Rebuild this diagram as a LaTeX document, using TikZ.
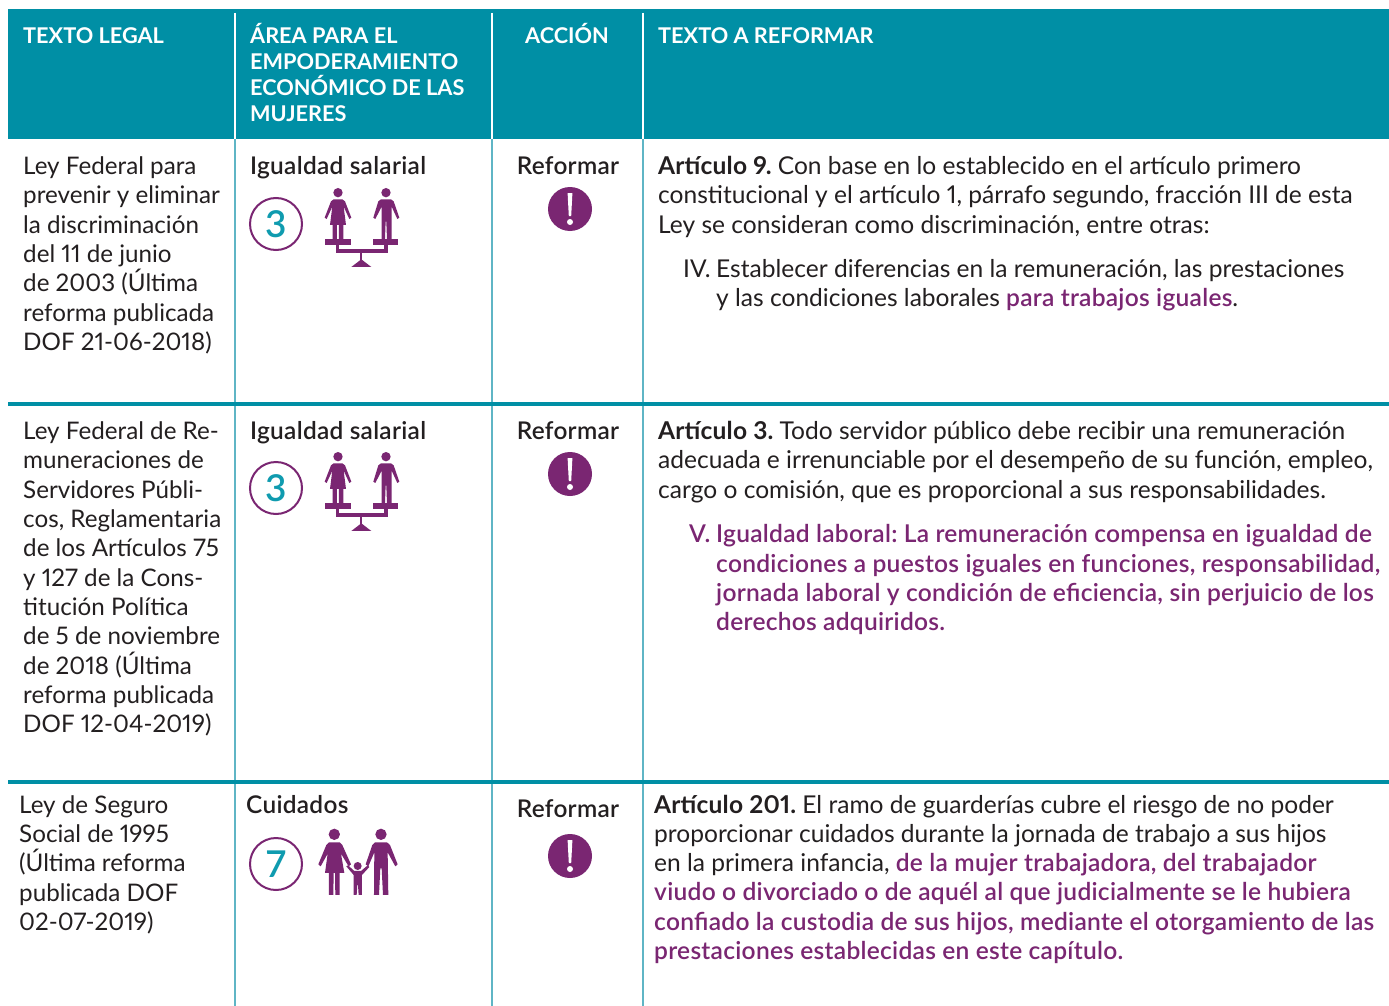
\documentclass[tikz,border=0pt]{standalone}
\usepackage{fontspec}
\setmainfont[Numbers=Proportional]{Lato}
\newfontfamily\medf[Numbers=Proportional,LetterSpace=1.2]{Lato Semibold}
\newfontfamily\purf[Numbers=Proportional,LetterSpace=1.05]{Lato Semibold}
\newfontfamily\artf[Numbers=Proportional,LetterSpace=0.7]{Lato Bold}
\definecolor{tealhead}{HTML}{008FA5}
\definecolor{tealrule}{HTML}{5FB5C5}
\definecolor{tealnum}{HTML}{0F9BAF}
\definecolor{purp}{HTML}{7A2672}
\definecolor{ink}{HTML}{231F20}
\newcommand{\pb}[1]{\textcolor{purp}{\purf #1}}
\newcommand{\art}[1]{{\artf #1}}
\newcommand{\ml}[1]{\begin{tabular}[t]{@{}l@{}}#1\end{tabular}}
\frenchspacing
\tikzset{
 x=1pt,y=-1pt,
 body/.style={anchor=base west,inner sep=0pt,text=ink,font=\fontsize{24.55}{29.3}\selectfont\frenchspacing},
 bodyl/.style={body,font=\fontsize{24.2}{29.3}\selectfont\frenchspacing},
 bodym/.style={body,font=\fontsize{24.4}{29.3}\medf\frenchspacing},
 bodyc/.style={bodym,anchor=base},
 head/.style={anchor=base west,inner sep=0pt,text=white,font=\fontsize{21.7}{26}\selectfont\bfseries},
 headc/.style={head,anchor=base},
 vrule/.style={draw=tealrule,line width=1.6pt},
 hrule/.style={draw=tealhead,line width=3.6pt},
 hdiv/.style={draw=white,line width=1.6pt},
 numcirc/.style={circle,draw=purp,line width=2pt,minimum size=52pt,inner sep=0pt,text=tealnum,font=\fontsize{37}{37}\medf},
 alert/.style={circle,fill=purp,minimum size=44pt,inner sep=0pt},
 pf/.style={fill=purp,draw=none},
}
\newcommand{\alertmark}[2]{%
  \fill[white] (#1-2.4,#2-16) -- (#1+2.4,#2-16) -- (#1+1.2,#2+7) -- (#1-1.2,#2+7) -- cycle;
  \fill[white] (#1,#2+13) circle (3);
}
\newcommand{\balance}{%
  \fill[pf] (309,158) circle (14);
  \fill[pf] (296,178) -- (322,178) -- (330,184) -- (349,233) -- (343,237) -- (326,200) -- (333,255) -- (325,255) -- (325,297) -- (312,297) -- (312,255) -- (306,255) -- (306,297) -- (293,297) -- (293,255) -- (285,255) -- (292,200) -- (275,237) -- (269,233) -- (288,184) -- cycle;
  \fill[pf] (453,158) circle (14);
  \fill[pf] (438,178) -- (468,178) -- (476,184) -- (493,233) -- (487,237) -- (470,200) -- (470,297) -- (456,297) -- (454,245) -- (452,245) -- (450,297) -- (440,297) -- (440,200) -- (421,237) -- (415,233) -- (430,184) -- cycle;
  \fill[pf] (270,297) rectangle (347,314);
  \fill[pf] (413,297) rectangle (488,314);
  \draw[purp,line width=3.2pt] (307,314) -- (307,333) -- (453,333) -- (453,314);
  \fill[pf] (376,333) rectangle (382,362);
  \fill[pf] (349,381) -- (409,381) -- (379,358) -- cycle;
}
\begin{document}
\begin{tikzpicture}
\useasboundingbox (0,0) rectangle (1389,1006);
\fill[white] (0,0) rectangle (1389,1006);
% header
\fill[tealhead] (8,9) rectangle (1389,139);
\coordinate (a1) at (235,13); \coordinate (a2) at (235,139);
\coordinate (b1) at (492,13); \coordinate (b2) at (492,139);
\coordinate (c1) at (643,13); \coordinate (c2) at (643,139);
\draw[hdiv] (a1) -- (a2); \draw[hdiv] (b1) -- (b2); \draw[hdiv] (c1) -- (c2);
\node[head] (h1) at (23,43.5) {TEXTO LEGAL};
\node[head] (h2) at (250,43.5) {\ml{ÁREA PARA EL\\EMPODERAMIENTO\\\smash{ECONÓMICO DE LAS}\\MUJERES}};
\node[headc] (h3) at (567,43.5) {ACCIÓN};
\node[head] (h4) at (658,43.5) {TEXTO A REFORMAR};
% rules
\coordinate (a3) at (235,1006); \coordinate (b3) at (492,1006); \coordinate (c3) at (643,1006);
\draw[vrule] (a2) -- (a3); \draw[vrule] (b2) -- (b3); \draw[vrule] (c2) -- (c3);
\coordinate (r1l) at (8,404); \coordinate (r1r) at (1389,404);
\coordinate (r2l) at (8,782); \coordinate (r2r) at (1389,782);
\draw[hrule] (r1l) -- (r1r); \draw[hrule] (r2l) -- (r2r);
% row 1
\node[bodyl] (l1) at (23,174.6) {\ml{Ley Federal para\\prevenir y eliminar\\la discriminación\\del 11 de junio\\\smash{de 2003 (Última}\\reforma publicada\\DOF 21-06-2018)}};
\node[bodym] (t1) at (250,174) {Igualdad salarial};
\node[numcirc] (n1) at (276,224) {3};
\begin{scope}[shift={(235,140)},x=0.3333pt,y=-0.3333pt]\balance\end{scope}
\node[bodyc] (f1) at (568,174) {Reformar};
\node[alert] (w1) at (570,209) {};
\alertmark{570}{209}
\node[body] (a9) at (658,174.5) {\ml{\art{Artículo 9.} Con base en lo establecido en el artículo primero\\constitucional y el artículo 1, párrafo segundo, fracción III de esta\\Ley se consideran como discriminación, entre otras:}};
\node[body] (iv) at (683,277.5) {IV.};
\node[body] (ivt) at (716,277.5) {\ml{Establecer diferencias en la remuneración, las prestaciones\\y las condiciones laborales \pb{para trabajos iguales}.}};
% row 2
\node[bodyl] (l2) at (23,439.6) {\ml{Ley Federal de Re-\\muneraciones de\\Servidores Públi-\\cos, Reglamentaria\\de los Artículos 75\\y 127 de la Cons-\\titución Política\\de 5 de noviembre\\\smash{de 2018 (Última}\\reforma publicada\\DOF 12-04-2019)}};
\node[bodym] (t2) at (250,439) {Igualdad salarial};
\node[numcirc] (n2) at (276,488) {3};
\begin{scope}[shift={(235,404)},x=0.3333pt,y=-0.3333pt]\balance\end{scope}
\node[bodyc] (f2) at (568,439) {Reformar};
\node[alert] (w2) at (570,474) {};
\alertmark{570}{474}
\node[body] (a3t) at (658,439.5) {\ml{\art{Artículo 3.} Todo servidor público debe recibir una remuneración\\adecuada e irrenunciable por el desempeño de su función, empleo,\\cargo o comisión, que es proporcional a sus responsabilidades.}};
\node[body] (v) at (689,542.7) {\pb{V.}};
\node[body] (vt) at (716,542.7) {\ml{\pb{Igualdad laboral: La remuneración compensa en igualdad de}\\\pb{condiciones a puestos iguales en funciones, responsabilidad,}\\\pb{jornada laboral y condición de eficiencia, sin perjuicio de los}\\\pb{derechos adquiridos.}}};
% row 3
\node[bodyl] (l3) at (19,813.3) {\ml{Ley de Seguro\\Social de 1995\\\smash{(Última reforma}\\publicada DOF\\02-07-2019)}};
\node[bodym] (t3) at (246,813) {Cuidados};
\node[numcirc] (n3) at (276,864) {7};
\begin{scope}[shift={(235,775)},x=0.3333pt,y=-0.3333pt]
  \fill[pf] (298,178) circle (17);
  \fill[pf] (282,202) -- (314,202) -- (322,210) -- (348,268) -- (341,274) -- (318,236) -- (328,294) -- (314,294) -- (314,360) -- (301,360) -- (300,294) -- (296,294) -- (295,360) -- (282,360) -- (282,294) -- (270,294) -- (278,236) -- (257,274) -- (250,268) -- (274,210) -- cycle;
  \fill[pf] (438,178) circle (17);
  \fill[pf] (420,202) -- (456,202) -- (465,210) -- (488,268) -- (481,274) -- (458,232) -- (460,360) -- (444,360) -- (440,280) -- (436,280) -- (432,360) -- (417,360) -- (418,232) -- (400,274) -- (392,268) -- (412,210) -- cycle;
  \fill[pf] (368,273) circle (12);
  \fill[pf] (334,274) -- (339,271) -- (358,288) -- (378,288) -- (398,271) -- (403,276) -- (381,300) -- (381,360) -- (371,360) -- (369,330) -- (367,330) -- (365,360) -- (356,360) -- (356,300) -- cycle;
\end{scope}
\node[bodyc] (f3) at (568,817) {Reformar};
\node[alert] (w3) at (570,856) {};
\alertmark{570}{856}
\node[body] (a201) at (654,813) {\ml{\art{Artículo 201.} El ramo de guarderías cubre el riesgo de no poder\\proporcionar cuidados durante la jornada de trabajo a sus hijos\\en la primera infancia, \pb{de la mujer trabajadora, del trabajador}\\\pb{viudo o divorciado o de aquél al que judicialmente se le hubiera}\\\pb{confiado la custodia de sus hijos, mediante el otorgamiento de las}\\\pb{prestaciones establecidas en este capítulo.}}};
\end{tikzpicture}
\end{document}
